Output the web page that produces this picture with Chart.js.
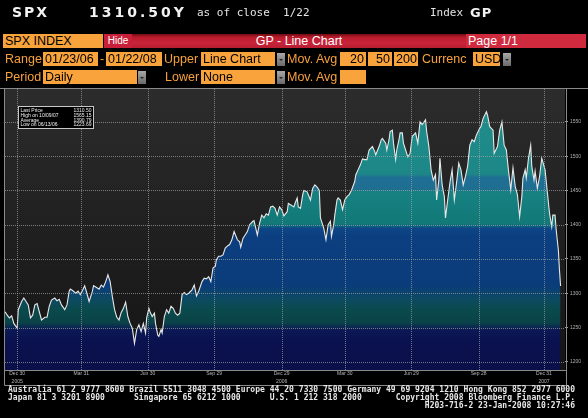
<!DOCTYPE html>
<html>
<head>
<meta charset="utf-8">
<script src="https://cdn.jsdelivr.net/npm/chart.js@4.4.1/dist/chart.umd.min.js"></script>
<style>
  body { margin: 0; background: #000; width: 588px; height: 418px; position: relative; overflow: hidden; }
  #plotbg { position: absolute; left: 5px; top: 89px; width: 560px; height: 281px; background: linear-gradient(to bottom, #2c2c2c, #141414); }
  #gp { position: absolute; left: 0; top: 0; }
  .t { position: absolute; white-space: pre; }
  .big { font-family: "DejaVu Sans"; font-weight: bold; color: #f2f2f2; }
  .mono { font-family: "DejaVu Sans Mono"; font-size: 11px; line-height: 11px; color: #e4e4e4; }
  .bar { position: absolute; height: 14px; line-height: 14px; font-family: "Liberation Sans"; font-size: 12.5px; white-space: pre; box-sizing: border-box; }
  .red { background: linear-gradient(to bottom, #6e0c14 0%, #b81a2a 22%, #c9243a 60%, #b81e30 100%); color: #fff; }
  .box { background: #f8a33c; color: #000; padding-left: 2px; }
  .lbl { color: #f7a03c; }
  .dd { position: absolute; width: 8px; height: 13px; background: linear-gradient(to bottom, #a8a8a8, #6a6a6a); }
  .dd::after { content: ""; position: absolute; left: 2px; top: 6px; border-left: 2px solid transparent; border-right: 2px solid transparent; border-top: 2px solid #222; }
  #foot { position: absolute; left: 8px; top: 386px; font-family: "DejaVu Sans Mono"; font-weight: bold; font-size: 8px; line-height: 8px; letter-spacing: 0.03px; color: #e8e8e8; white-space: pre; margin: 0; }
</style>
</head>
<body>
<div id="plotbg"></div>
<canvas id="gp" width="588" height="418"></canvas>

<div class="t big" style="left:12px;top:5px;font-size:14px;line-height:14px;letter-spacing:2px;">SPX</div>
<div class="t big" style="left:89px;top:5px;font-size:14px;line-height:14px;letter-spacing:3px;">1310.50Y</div>
<div class="t mono" style="left:197px;top:7px;">as of close  1/22</div>
<div class="t mono" style="left:430px;top:7px;">Index</div>
<div class="t big" style="left:470px;top:6px;font-size:13px;line-height:13px;letter-spacing:1px;">GP</div>

<div class="bar box" style="left:3px;top:34px;width:100px;">SPX INDEX</div>
<div class="bar red" style="left:104px;top:34px;width:28px;font-size:10px;text-align:center;background:#c8203a;">Hide</div>
<div class="bar red" style="left:132px;top:34px;width:334px;text-align:center;">GP - Line Chart</div>
<div class="bar red" style="left:466px;top:34px;width:120px;padding-left:2px;background:#d02a3e;">Page 1/1</div>

<div class="bar lbl" style="left:5px;top:52px;">Range</div>
<div class="bar box" style="left:43px;top:52px;width:55px;">01/23/06</div>
<div class="bar lbl" style="left:100px;top:52px;">-</div>
<div class="bar box" style="left:106px;top:52px;width:56px;">01/22/08</div>
<div class="bar lbl" style="left:164px;top:52px;">Upper</div>
<div class="bar box" style="left:201px;top:52px;width:74px;">Line Chart</div>
<div class="dd" style="left:277px;top:53px;"></div>
<div class="bar lbl" style="left:287px;top:52px;">Mov. Avg</div>
<div class="bar box" style="left:340px;top:52px;width:26px;text-align:right;padding-right:2px;">20</div>
<div class="bar box" style="left:368px;top:52px;width:24px;text-align:right;padding-right:2px;">50</div>
<div class="bar box" style="left:394px;top:52px;width:24px;text-align:right;padding-right:2px;">200</div>
<div class="bar lbl" style="left:422px;top:52px;">Currenc</div>
<div class="bar box" style="left:473px;top:52px;width:27px;">USD</div>
<div class="dd" style="left:503px;top:53px;"></div>

<div class="bar lbl" style="left:5px;top:70px;">Period</div>
<div class="bar box" style="left:43px;top:70px;width:94px;">Daily</div>
<div class="dd" style="left:138px;top:71px;"></div>
<div class="bar lbl" style="left:165px;top:70px;">Lower</div>
<div class="bar box" style="left:201px;top:70px;width:74px;">None</div>
<div class="dd" style="left:277px;top:71px;"></div>
<div class="bar lbl" style="left:287px;top:70px;">Mov. Avg</div>
<div class="bar box" style="left:340px;top:70px;width:26px;"></div>

<pre id="foot">Australia 61 2 9777 8600 Brazil 5511 3048 4500 Europe 44 20 7330 7500 Germany 49 69 9204 1210 Hong Kong 852 2977 6000
Japan 81 3 3201 8900      Singapore 65 6212 1000      U.S. 1 212 318 2000       Copyright 2008 Bloomberg Finance L.P.
                                                                                      H203-716-2 23-Jan-2008 10:27:46</pre>

<script>
// position along the axis, in trading sessions
const sessions = [0,2,4,6,8,11,12,15,17,19,21,23,25,27,29,31,33,36,38,40,42,45,47,49,51,54,56,58,59,61,
  64,66,68,70,72,74,76,79,80,82,85,87,89,91,93,95,97,99,101,103,105,107,109,111,113,115,117,119,121,123,
  125,127,128,130,131,133,135,136,138,139,141,142,144,146,148,150,152,154,156,158,160,162,164,166,169,171,173,175,178,180,
  182,184,186,188,190,191,193,195,197,199,201,203,205,207,210,212,213,215,217,219,221,224,225,228,230,232,234,236,238,240,
  242,244,246,248,250,252,255,256,258,261,262,264,265,267,269,270,273,275,276,278,280,282,284,285,287,288,290,292,294,295,
  297,298,300,301,303,305,307,309,311,313,316,317,319,321,323,325,327,329,332,334,335,338,340,341,344,345,347,348,350,351,
  353,354,356,357,359,360,362,364,366,368,371,373,375,377,380,381,383,385,387,389,390,392,393,395,397,398,400,402,404,406,
  408,410,412,414,416,418,420,422,424,426,429,430,432,435,436,438,441,442,445,447,449,451,453,455,457,459,461,463,465,467,
  468,470,471,473,475,476,478,479,481,483,485,488,490,492,494,495,497,498,500,501,502];

const closes = [1273,1268,1264,1267,1256,1249,1276,1288,1293,1288,1283,1264,1268,1283,1285,1273,1261,1265,1265,1281,
  1290,1293,1289,1291,1283,1276,1283,1303,1306,1304,1300,1303,1298,1304,1311,1300,1288,1303,1311,1309,
  1306,1312,1309,1317,1327,1317,1295,1276,1265,1261,1272,1278,1287,1266,1256,1249,1227,1247,1254,1244,
  1256,1242,1264,1278,1273,1266,1271,1256,1239,1237,1247,1242,1266,1276,1271,1281,1278,1271,1268,1271,
  1298,1301,1298,1300,1305,1312,1296,1303,1317,1322,1321,1324,1317,1337,1339,1349,1354,1354,1356,1366,
  1369,1371,1378,1390,1378,1375,1367,1380,1385,1390,1400,1405,1406,1385,1402,1414,1410,1416,1414,1426,
  1427,1424,1414,1426,1422,1413,1419,1431,1429,1426,1431,1439,1426,1424,1444,1450,1448,1440,1436,1453,
  1458,1455,1450,1410,1400,1395,1378,1400,1405,1383,1400,1414,1436,1439,1436,1422,1436,1441,1444,1450,
  1463,1473,1480,1487,1496,1495,1495,1509,1514,1507,1502,1514,1524,1526,1519,1509,1524,1536,1538,1519,
  1495,1509,1524,1534,1534,1519,1509,1499,1504,1529,1534,1519,1550,1546,1553,1536,1514,1480,1465,1473,
  1436,1465,1497,1458,1441,1410,1436,1461,1480,1436,1461,1490,1480,1458,1470,1485,1516,1524,1521,1531,
  1541,1543,1555,1565,1560,1543,1538,1504,1514,1538,1550,1516,1509,1478,1451,1483,1456,1444,1412,1441,
  1468,1480,1468,1497,1516,1485,1465,1478,1453,1470,1497,1480,1448,1417,1397,1414,1414,1393,1363,1334,1310.5];

const tickSessions = [11, 69, 129, 189, 250, 307, 367, 428, 487];
const tickLabels = [["Dec 30", "2005"], "Mar 31", "Jun 30", "Sep 29", ["Dec 29", "2006"], "Mar 30", "Jun 29", "Sep 28", ["Dec 31", "2007"]];
const priceTicks = [1200, 1250, 1300, 1350, 1400, 1450, 1500, 1550];

const statRows = ["Last Price", "High on 10/09/07", "Average", "Low on 06/13/06"];
const statValues = ["1310.50", "1565.15", "1390.79", "1223.69"];

// colour bands of the area, keyed by price level
const bandStops = [
  [1566, "#208c8c"], [1474, "#1d8787"], [1469, "#1f6f94"], [1452, "#1f6e92"], [1448, "#178181"],
  [1401, "#127878"], [1394, "#0d4586"], [1384, "#0c3f80"], [1312, "#0b3c7a"], [1290, "#0c4a60"],
  [1276, "#0a4a4c"], [1257, "#0a4248"], [1247, "#0b1a55"], [1232, "#0b1250"], [1188, "#090f48"]
];

function areaFill(context) {
  const chart = context.chart;
  const area = chart.chartArea;
  if (!area) return null;
  const y = chart.scales.y;
  const g = chart.ctx.createLinearGradient(0, area.top, 0, area.bottom);
  const h = area.bottom - area.top;
  for (const [v, c] of bandStops) {
    const f = (y.getPixelForValue(v) - area.top) / h;
    g.addColorStop(Math.min(1, Math.max(0, f)), c);
  }
  return g;
}

// dotted grid over the filled area, placed from the scales' own ticks
const dottedGrid = {
  id: "dottedGrid",
  afterDatasetsDraw(chart) {
    const { ctx, chartArea: a, scales } = chart;
    ctx.save();
    ctx.strokeStyle = "rgba(170,170,170,0.65)";
    ctx.lineWidth = 1;
    ctx.setLineDash([1, 1]);
    ctx.beginPath();
    for (const t of scales.y.ticks) {
      const py = Math.round(scales.y.getPixelForValue(t.value)) + 0.5;
      ctx.moveTo(a.left, py); ctx.lineTo(a.right, py);
    }
    for (const t of scales.x.ticks) {
      const px = Math.round(scales.x.getPixelForValue(t.value)) + 0.5;
      ctx.moveTo(px, a.top); ctx.lineTo(px, a.bottom);
    }
    ctx.stroke();
    ctx.restore();
  },
};

const terminalFrame = {
  id: "terminalFrame",
  afterDraw(chart) {
    const { ctx, chartArea: a } = chart;
    ctx.save();
    ctx.strokeStyle = "#8a8a8a";
    ctx.lineWidth = 1;
    ctx.beginPath();
    ctx.moveTo(0, 88.5); ctx.lineTo(588, 88.5);
    ctx.moveTo(4.5, 88.5); ctx.lineTo(4.5, 385.5); ctx.lineTo(a.right + 1.5, 385.5); ctx.lineTo(a.right + 1.5, 88.5);
    ctx.moveTo(4.5, a.bottom + 0.5); ctx.lineTo(a.right + 1.5, a.bottom + 0.5);
    ctx.stroke();

    // stats box
    ctx.fillStyle = "#000";
    ctx.fillRect(18.5, 106.5, 75, 22);
    ctx.strokeStyle = "#c8c8c8";
    ctx.strokeRect(18.5, 106.5, 75, 22);
    ctx.font = "5px 'Liberation Sans'";
    ctx.fillStyle = "#f0f0f0";
    ctx.textBaseline = "alphabetic";
    statRows.forEach((r, i) => {
      const yy = 112 + i * 4.8;
      ctx.textAlign = "left";
      ctx.fillText(r, 20.5, yy);
      ctx.textAlign = "right";
      ctx.fillText(statValues[i], 91.5, yy);
    });
    ctx.restore();
  }
};

new Chart(document.getElementById("gp"), {
  type: "line",
  data: {
    datasets: [{
      data: sessions.map((s, i) => ({ x: s, y: closes[i] })),
      borderColor: "#e8e8e8",
      borderWidth: 1.1,
      pointRadius: 0,
      tension: 0,
      fill: "start",
      backgroundColor: areaFill,
    }],
  },
  options: {
    responsive: false,
    animation: false,
    events: [],
    layout: { padding: { left: 5, top: 89, right: 0, bottom: 33 } },
    plugins: { legend: { display: false }, tooltip: { enabled: false } },
    scales: {
      x: {
        type: "linear",
        min: 0,
        max: 506,
        afterBuildTicks: (ax) => { ax.ticks = tickSessions.map((v) => ({ value: v })); },
        afterFit: (ax) => { ax.height = 15; },
        ticks: {
          callback: (v, i) => tickLabels[i],
          color: "#b8b8b8",
          font: { family: "Liberation Sans", size: 5, lineHeight: 1.5 },
          padding: 0,
          maxRotation: 0,
          autoSkip: false,
        },
        grid: { display: true, drawOnChartArea: false, drawTicks: false },
        border: { display: false },
      },
      y: {
        position: "right",
        min: 1188,
        max: 1598,
        afterBuildTicks: (ax) => { ax.ticks = priceTicks.map((v) => ({ value: v })); },
        afterFit: (ax) => { ax.width = 23; },
        ticks: {
          callback: (v) => String(v),
          color: "#b0b0b0",
          font: { family: "Liberation Sans", size: 5 },
          padding: 2,
        },
        grid: { display: true, drawOnChartArea: false, drawTicks: true, tickLength: 3, tickColor: "#a0a0a0" },
        border: { display: false },
      },
    },
  },
  plugins: [dottedGrid, terminalFrame],
});
</script>
</body>
</html>
